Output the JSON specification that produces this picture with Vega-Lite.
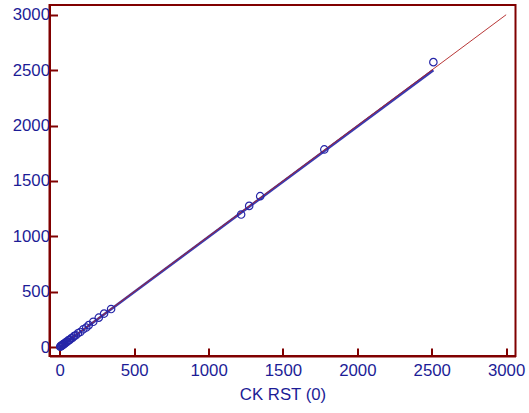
{
  "$schema": "https://vega.github.io/schema/vega-lite/v6.json",
  "width": 466,
  "height": 351,
  "autosize": "none",
  "padding": {"left": 49.5, "top": 5, "right": 13.5, "bottom": 57},
  "background": "white",
  "config": {
    "view": {"stroke": "#800000", "strokeWidth": 2},
    "axis": {
      "grid": false,
      "domainColor": "#800000",
      "domainWidth": 2,
      "tickColor": "#800000",
      "tickWidth": 2,
      "tickSize": -8,
      "labelColor": "#1c1c96",
      "labelFont": "Liberation Sans",
      "labelFontSize": 16.8,
      "titleColor": "#1c1c96",
      "titleFont": "Liberation Sans",
      "titleFontSize": 16.8,
      "titleFontWeight": "normal"
    }
  },
  "datasets": {
    "pts": [
      {"x": 3, "y": 2}, {"x": 6, "y": 8}, {"x": 10, "y": 9}, {"x": 14, "y": 15},
      {"x": 18, "y": 17}, {"x": 22, "y": 24}, {"x": 27, "y": 26}, {"x": 32, "y": 33},
      {"x": 38, "y": 37}, {"x": 45, "y": 47}, {"x": 52, "y": 50}, {"x": 60, "y": 62},
      {"x": 68, "y": 66}, {"x": 77, "y": 79}, {"x": 86, "y": 84}, {"x": 95, "y": 98},
      {"x": 108, "y": 106}, {"x": 122, "y": 125}, {"x": 138, "y": 136}, {"x": 158, "y": 160},
      {"x": 178, "y": 176}, {"x": 195, "y": 198}, {"x": 225, "y": 228}, {"x": 262, "y": 265},
      {"x": 298, "y": 302}, {"x": 345, "y": 343},
      {"x": 1219, "y": 1196}, {"x": 1273, "y": 1274}, {"x": 1347, "y": 1362},
      {"x": 1778, "y": 1784}, {"x": 2511, "y": 2572}
    ],
    "reg": [{"x": 0, "y": -2}, {"x": 2511, "y": 2500}],
    "ident": [{"x": 0, "y": 0}, {"x": 3000, "y": 3000}]
  },
  "layer": [
    {
      "data": {"name": "reg"},
      "mark": {"type": "line", "color": "#3a3ab0", "strokeWidth": 2.6},
      "encoding": {
        "x": {"field": "x", "type": "quantitative", "scale": {"domain": [-69, 3063], "nice": false, "zero": false},
              "axis": {"values": [0, 500, 1000, 1500, 2000, 2500, 3000], "format": "d", "title": "CK RST (0)", "labelPadding": 14, "titlePadding": 8}},
        "y": {"field": "y", "type": "quantitative", "scale": {"domain": [-81, 3088], "nice": false, "zero": false},
              "axis": {"values": [0, 500, 1000, 1500, 2000, 2500, 3000], "format": "d", "title": null, "labelPadding": 8}}
      }
    },
    {
      "data": {"name": "ident"},
      "mark": {"type": "line", "color": "#b02020", "strokeWidth": 0.9},
      "encoding": {
        "x": {"field": "x", "type": "quantitative"},
        "y": {"field": "y", "type": "quantitative"}
      }
    },
    {
      "data": {"name": "pts"},
      "mark": {"type": "point", "shape": "circle", "filled": false, "color": "#2626a8", "size": 55, "strokeWidth": 1.2, "opacity": 1},
      "encoding": {
        "x": {"field": "x", "type": "quantitative"},
        "y": {"field": "y", "type": "quantitative"}
      }
    }
  ]
}
